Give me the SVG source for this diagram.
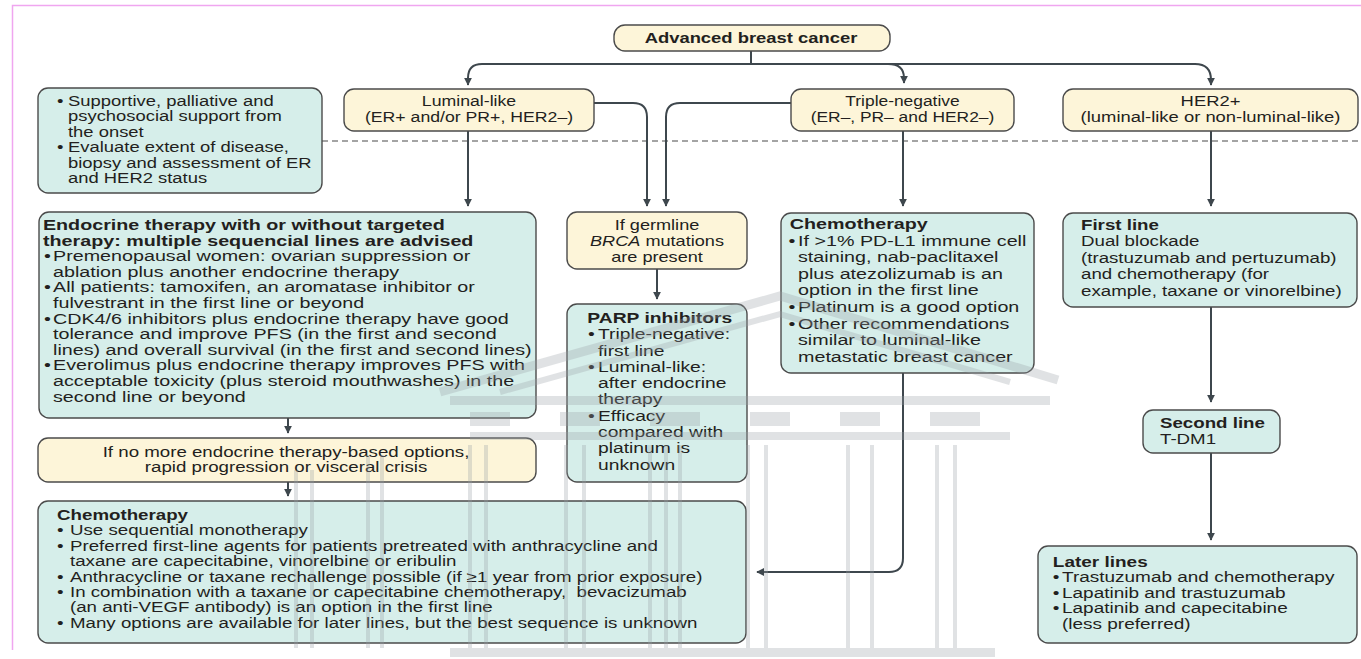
<svg xmlns="http://www.w3.org/2000/svg" width="1361" height="659" viewBox="0 0 1361 659">
  <defs>
    <style>
      .cream { fill: #fdf5d9; stroke: #4b4b4b; stroke-width: 1.4; }
      .teal { fill: #d6eeea; stroke: #4b4b4b; stroke-width: 1.4; }
      .t { font-family: "Liberation Sans", Arial, sans-serif; font-size: 14.5px; fill: #231f20; }
      .b { font-weight: bold; }
      .i { font-style: italic; }
      .conn { fill: none; stroke: #3e474d; stroke-width: 2; }
      .dash { fill: none; stroke: #4a4a4a; stroke-width: 1.2; stroke-dasharray: 6 4; }
      .wm { fill: #9aa1a7; }
      .wml { fill: none; stroke: #9aa1a7; }
    </style>
    <marker id="arrow" viewBox="0 0 10 10" refX="9" refY="5" markerWidth="8" markerHeight="8" markerUnits="userSpaceOnUse" orient="auto">
      <path d="M0,0 L10,5 L0,10 z" fill="#3e474d"/>
    </marker>
  </defs>

  <rect width="1361" height="659" fill="#ffffff"/>
  <!-- page frame -->
  <path d="M12.5,650 V5.5 H1361" fill="none" stroke="#f0a6f0" stroke-width="1.5"/>

  <!-- connectors -->
  <g id="connectors">
    <path class="dash" d="M322,141 H1361"/>
    <path class="conn" d="M751,51 V64 H482 Q468,64 468,78 V85" marker-end="url(#arrow)"/>
    <path class="conn" d="M751,64 H1195 Q1211,64 1211,80 V85" marker-end="url(#arrow)"/>
    <path class="conn" d="M888,64 Q904,64 904,78 V83" marker-end="url(#arrow)"/>
    <path class="conn" d="M468,131 V206" marker-end="url(#arrow)"/>
    <path class="conn" d="M594,103 H633 Q647,103 647,117 V206" marker-end="url(#arrow)"/>
    <path class="conn" d="M791,103 H680 Q666,103 666,117 V206" marker-end="url(#arrow)"/>
    <path class="conn" d="M903,131 V206" marker-end="url(#arrow)"/>
    <path class="conn" d="M1211,131 V206" marker-end="url(#arrow)"/>
    <path class="conn" d="M657,269 V299" marker-end="url(#arrow)"/>
    <path class="conn" d="M288,418 V433" marker-end="url(#arrow)"/>
    <path class="conn" d="M288,482 V496" marker-end="url(#arrow)"/>
    <path class="conn" d="M903,373 V558 Q903,572 889,572 H757" marker-end="url(#arrow)"/>
    <path class="conn" d="M1211,307 V402" marker-end="url(#arrow)"/>
    <path class="conn" d="M1211,453 V540" marker-end="url(#arrow)"/>
  </g>

  <g id="advanced">
    <rect class="cream" x="614" y="25" width="276" height="26" rx="11"/>
    <text class="t b" text-anchor="middle" transform="translate(751,43) scale(1.27,1)">Advanced breast cancer</text>
  </g>

  <g id="luminal">
    <rect class="cream" x="344" y="89" width="250" height="42" rx="10"/>
    <text class="t" text-anchor="middle" transform="translate(469,106) scale(1.22,1)"><tspan x="0">Luminal-like</tspan><tspan x="0" dy="16">(ER+ and/or PR+, HER2–)</tspan></text>
  </g>

  <g id="triple">
    <rect class="cream" x="791" y="89" width="223" height="42" rx="10"/>
    <text class="t" text-anchor="middle" transform="translate(902.5,106) scale(1.2,1)"><tspan x="0">Triple-negative</tspan><tspan x="0" dy="16">(ER–, PR– and HER2–)</tspan></text>
  </g>

  <g id="her2">
    <rect class="cream" x="1063" y="89" width="295" height="42" rx="10"/>
    <text class="t" text-anchor="middle" transform="translate(1210.5,106) scale(1.27,1)"><tspan x="0">HER2+</tspan><tspan x="0" dy="16">(luminal-like or non-luminal-like)</tspan></text>
  </g>

  <g id="supportive">
    <rect class="teal" x="38" y="88" width="284" height="105" rx="10"/>
    <text class="t" transform="translate(68,106) scale(1.27,1)">
      <tspan x="-8.7">•</tspan><tspan x="0">Supportive, palliative and</tspan>
      <tspan x="0" dy="15.4">psychosocial support from</tspan>
      <tspan x="0" dy="15.4">the onset</tspan>
      <tspan x="-8.7" dy="15.4">•</tspan><tspan x="0">Evaluate extent of disease,</tspan>
      <tspan x="0" dy="15.4">biopsy and assessment of ER</tspan>
      <tspan x="0" dy="15.4">and HER2 status</tspan>
    </text>
  </g>

  <g id="endocrine">
    <rect class="teal" x="39" y="212" width="497" height="206" rx="10"/>
    <text class="t" transform="translate(53,230) scale(1.36,1)">
      <tspan class="b" x="-7.4">Endocrine therapy with or without targeted</tspan>
      <tspan class="b" x="-7.4" dy="15.6">therapy: multiple sequencial lines are advised</tspan>
      <tspan x="-6.6" dy="15.6">•</tspan><tspan x="0">Premenopausal women: ovarian suppression or</tspan>
      <tspan x="0" dy="15.6">ablation plus another endocrine therapy</tspan>
      <tspan x="-6.6" dy="15.6">•</tspan><tspan x="0">All patients: tamoxifen, an aromatase inhibitor or</tspan>
      <tspan x="0" dy="15.6">fulvestrant in the first line or beyond</tspan>
      <tspan x="-6.6" dy="15.6">•</tspan><tspan x="0">CDK4/6 inhibitors plus endocrine therapy have good</tspan>
      <tspan x="0" dy="15.6">tolerance and improve PFS (in the first and second</tspan>
      <tspan x="0" dy="15.6">lines) and overall survival (in the first and second lines)</tspan>
      <tspan x="-6.6" dy="15.6">•</tspan><tspan x="0">Everolimus plus endocrine therapy improves PFS with</tspan>
      <tspan x="0" dy="15.6">acceptable toxicity (plus steroid mouthwashes) in the</tspan>
      <tspan x="0" dy="15.6">second line or beyond</tspan>
    </text>
  </g>

  <g id="germline">
    <rect class="cream" x="567" y="212" width="180" height="57" rx="10"/>
    <text class="t" text-anchor="middle" transform="translate(657,230) scale(1.25,1)"><tspan x="0">If germline</tspan><tspan x="0" dy="16"><tspan class="i">BRCA</tspan> mutations</tspan><tspan x="0" dy="16">are present</tspan></text>
  </g>

  <g id="parp">
    <rect class="teal" x="567" y="304" width="180" height="178" rx="10"/>
    <text class="t" transform="translate(598,323) scale(1.33,1)">
      <tspan class="b" x="-8">PARP inhibitors</tspan>
      <tspan x="-7.5" dy="16.3">•</tspan><tspan x="0">Triple-negative:</tspan>
      <tspan x="0" dy="16.3">first line</tspan>
      <tspan x="-7.5" dy="16.3">•</tspan><tspan x="0">Luminal-like:</tspan>
      <tspan x="0" dy="16.3">after endocrine</tspan>
      <tspan x="0" dy="16.3">therapy</tspan>
      <tspan x="-7.5" dy="16.3">•</tspan><tspan x="0">Efficacy</tspan>
      <tspan x="0" dy="16.3">compared with</tspan>
      <tspan x="0" dy="16.3">platinum is</tspan>
      <tspan x="0" dy="16.3">unknown</tspan>
    </text>
  </g>

  <g id="chemo-tn">
    <rect class="teal" x="781" y="213" width="253" height="160" rx="10"/>
    <text class="t" transform="translate(798,229) scale(1.36,1)">
      <tspan class="b" x="-6">Chemotherapy</tspan>
      <tspan x="-7" dy="16.6">•</tspan><tspan x="0">If &gt;1% PD-L1 immune cell</tspan>
      <tspan x="0" dy="16.6">staining, nab-paclitaxel</tspan>
      <tspan x="0" dy="16.6">plus atezolizumab is an</tspan>
      <tspan x="0" dy="16.6">option in the first line</tspan>
      <tspan x="-7" dy="16.6">•</tspan><tspan x="0">Platinum is a good option</tspan>
      <tspan x="-7" dy="16.6">•</tspan><tspan x="0">Other recommendations</tspan>
      <tspan x="0" dy="16.6">similar to luminal-like</tspan>
      <tspan x="0" dy="16.6">metastatic breast cancer</tspan>
    </text>
  </g>

  <g id="first-line">
    <rect class="teal" x="1063" y="213" width="294" height="94" rx="10"/>
    <text class="t" transform="translate(1081,230) scale(1.29,1)">
      <tspan class="b" x="0">First line</tspan>
      <tspan x="0" dy="16.4">Dual blockade</tspan>
      <tspan x="0" dy="16.4">(trastuzumab and pertuzumab)</tspan>
      <tspan x="0" dy="16.4">and chemotherapy (for</tspan>
      <tspan x="0" dy="16.4">example, taxane or vinorelbine)</tspan>
    </text>
  </g>

  <g id="second-line">
    <rect class="teal" x="1143" y="410" width="137" height="43" rx="10"/>
    <text class="t" transform="translate(1160,428) scale(1.29,1)">
      <tspan class="b" x="0">Second line</tspan>
      <tspan x="0" dy="16">T-DM1</tspan>
    </text>
  </g>

  <g id="later-lines">
    <rect class="teal" x="1038" y="546" width="319" height="97" rx="10"/>
    <text class="t" transform="translate(1062,567) scale(1.31,1)">
      <tspan class="b" x="-7">Later lines</tspan>
      <tspan x="-7" dy="15.5">•</tspan><tspan x="0">Trastuzumab and chemotherapy</tspan>
      <tspan x="-7" dy="15.5">•</tspan><tspan x="0">Lapatinib and trastuzumab</tspan>
      <tspan x="-7" dy="15.5">•</tspan><tspan x="0">Lapatinib and capecitabine</tspan>
      <tspan x="0" dy="15.5">(less preferred)</tspan>
    </text>
  </g>

  <g id="no-more-endocrine">
    <rect class="cream" x="38" y="438" width="498" height="44" rx="10"/>
    <text class="t" text-anchor="middle" transform="translate(286,456.5) scale(1.29,1)"><tspan x="0">If no more endocrine therapy-based options,</tspan><tspan x="0" dy="15.5">rapid progression or visceral crisis</tspan></text>
  </g>

  <g id="chemotherapy">
    <rect class="teal" x="38" y="501" width="708" height="142" rx="10"/>
    <text class="t" transform="translate(70,520) scale(1.29,1)">
      <tspan class="b" x="-10">Chemotherapy</tspan>
      <tspan x="-10" dy="15.4">•</tspan><tspan x="0">Use sequential monotherapy</tspan>
      <tspan x="-10" dy="15.4">•</tspan><tspan x="0">Preferred first-line agents for patients pretreated with anthracycline and</tspan>
      <tspan x="0" dy="15.4">taxane are capecitabine, vinorelbine or eribulin</tspan>
      <tspan x="-10" dy="15.4">•</tspan><tspan x="0">Anthracycline or taxane rechallenge possible (if ≥1 year from prior exposure)</tspan>
      <tspan x="-10" dy="15.4">•</tspan><tspan x="0">In combination with a taxane or capecitabine chemotherapy,&#160; bevacizumab</tspan>
      <tspan x="0" dy="15.4">(an anti-VEGF antibody) is an option in the first line</tspan>
      <tspan x="-10" dy="15.4">•</tspan><tspan x="0">Many options are available for later lines, but the best sequence is unknown</tspan>
    </text>
  </g>

  <!-- faint building watermark laid over the chart -->
  <g id="watermark" opacity="0.3">
    <polyline class="wml" stroke-width="9" points="440,392 780,296 1058,380"/>
    <polyline class="wml" stroke-width="6" points="500,392 780,314 1010,382"/>
    <rect class="wm" x="450" y="396" width="600" height="9"/>
    <rect class="wm" x="470" y="412" width="40" height="14"/>
    <rect class="wm" x="560" y="412" width="40" height="14"/>
    <rect class="wm" x="650" y="412" width="50" height="14"/>
    <rect class="wm" x="750" y="412" width="40" height="14"/>
    <rect class="wm" x="840" y="412" width="40" height="14"/>
    <rect class="wm" x="930" y="412" width="50" height="14"/>
    <rect class="wm" x="470" y="432" width="540" height="8"/>
    <g class="wml" stroke-width="4">
      <path d="M296,470 V648 M312,470 V648"/>
      <path d="M368,455 V648 M382,455 V648"/>
      <path d="M470,445 V648 M486,445 V648"/>
      <path d="M566,445 V648 M584,445 V648"/>
      <path d="M650,445 V648 M666,445 V648 M680,445 V648"/>
      <path d="M748,445 V648 M766,445 V648"/>
      <path d="M848,445 V648 M872,445 V648"/>
      <path d="M937,445 V648 M955,445 V648"/>
    </g>
    <rect class="wm" x="450" y="648" width="545" height="9"/>
  </g>
</svg>
